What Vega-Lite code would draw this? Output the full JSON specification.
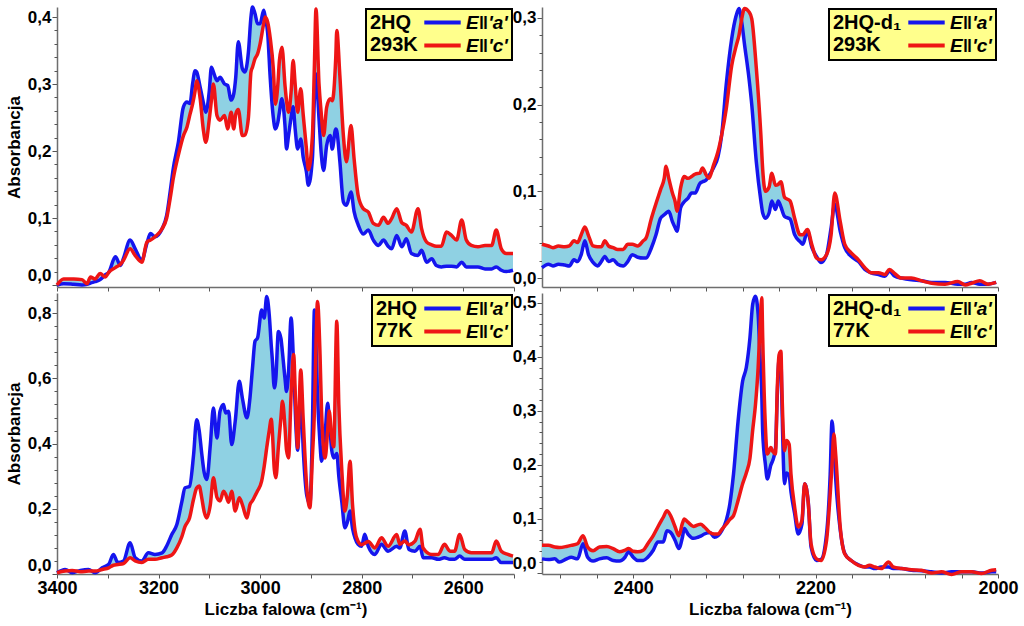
{
  "$schema": "https://vega.github.io/schema/vega-lite/v6.json",
  "background": "white",
  "padding": {"left": 5, "top": 0, "right": 5, "bottom": 2},
  "config": {
    "font": "Liberation Sans",
    "view": {"stroke": null},
    "locale": {"number": {"decimal": ",", "thousands": " ", "grouping": [3], "currency": ["", ""]}},
    "axis": {"grid": false, "labelFont": "Liberation Sans", "labelFontWeight": "bold", "labelFontSize": 17, "labelColor": "#000", "titleFont": "Liberation Sans", "titleFontWeight": "bold", "titleFontSize": 17, "titleColor": "#000", "domainColor": "#6e6e6e", "domainWidth": 1.5, "tickColor": "#555", "tickWidth": 1, "labelPadding": 1, "minExtent": 0},
    "axisX": {"labelFlush": false, "titlePadding": 4, "labelFontSize": 18},
    "axisY": {"titlePadding": 4},
    "legend": {"strokeWidth": 2, "fillColor": "#ffff8c", "strokeColor": "#000", "orient": "top-right", "offset": 2, "titleOrient": "left", "padding": 4, "symbolType": "M-2.6,0H2.6", "symbolSize": 196, "symbolStrokeWidth": 4, "labelOffset": 14, "labelFont": "Liberation Sans", "labelFontSize": 19, "labelFontStyle": "italic", "labelFontWeight": "bold", "labelColor": "#000", "titleFont": "Liberation Sans", "titleFontSize": 20, "titleFontWeight": "bold", "titleColor": "#000", "titleLineHeight": 22, "rowPadding": 3, "titlePadding": 15, "labelLimit": 300, "titleLimit": 300, "titleAnchor": "start", "titleBaseline": "top"}
  },
  "datasets": {
    "tl": [
      {"wn":3400,"a":0.000,"c":0.000},{"wn":3387,"a":0.002,"c":0.009},{"wn":3367,"a":0.001,"c":0.009},{"wn":3351,"a":0.000,"c":0.008},{"wn":3341,"a":0.001,"c":0.002},{"wn":3334,"a":0.003,"c":0.012},{"wn":3325,"a":0.005,"c":0.009},{"wn":3315,"a":0.008,"c":0.017},{"wn":3305,"a":0.015,"c":0.012},{"wn":3298,"a":0.019,"c":0.019},{"wn":3285,"a":0.042,"c":0.026},{"wn":3275,"a":0.029,"c":0.031},{"wn":3269,"a":0.040,"c":0.037},{"wn":3256,"a":0.067,"c":0.054},{"wn":3246,"a":0.054,"c":0.044},{"wn":3233,"a":0.037,"c":0.034},{"wn":3223,"a":0.062,"c":0.064},{"wn":3216,"a":0.077,"c":0.067},{"wn":3207,"a":0.072,"c":0.072},{"wn":3193,"a":0.084,"c":0.084},{"wn":3184,"a":0.104,"c":0.100},{"wn":3177,"a":0.140,"c":0.130},{"wn":3171,"a":0.174,"c":0.159},{"wn":3161,"a":0.213,"c":0.194},{"wn":3151,"a":0.266,"c":0.223},{"wn":3144,"a":0.273,"c":0.236},{"wn":3138,"a":0.271,"c":0.255},{"wn":3133,"a":0.300,"c":0.270},{"wn":3128,"a":0.320,"c":0.290},{"wn":3125,"a":0.318,"c":0.305},{"wn":3118,"a":0.295,"c":0.278},{"wn":3112,"a":0.273,"c":0.233},{"wn":3107,"a":0.258,"c":0.213},{"wn":3100,"a":0.290,"c":0.248},{"wn":3096,"a":0.325,"c":0.275},{"wn":3092,"a":0.318,"c":0.300},{"wn":3085,"a":0.305,"c":0.253},{"wn":3079,"a":0.310,"c":0.246},{"wn":3070,"a":0.300,"c":0.253},{"wn":3064,"a":0.298,"c":0.233},{"wn":3057,"a":0.276,"c":0.258},{"wn":3052,"a":0.285,"c":0.233},{"wn":3048,"a":0.310,"c":0.255},{"wn":3043,"a":0.363,"c":0.262},{"wn":3035,"a":0.323,"c":0.223},{"wn":3030,"a":0.318,"c":0.224},{"wn":3023,"a":0.348,"c":0.250},{"wn":3018,"a":0.400,"c":0.318},{"wn":3015,"a":0.415,"c":0.325},{"wn":3010,"a":0.405,"c":0.338},{"wn":3005,"a":0.390,"c":0.345},{"wn":3000,"a":0.390,"c":0.360},{"wn":2993,"a":0.410,"c":0.390},{"wn":2990,"a":0.400,"c":0.400},{"wn":2985,"a":0.375,"c":0.392},{"wn":2980,"a":0.308,"c":0.368},{"wn":2974,"a":0.250,"c":0.323},{"wn":2970,"a":0.233,"c":0.270},{"wn":2965,"a":0.243,"c":0.300},{"wn":2962,"a":0.258,"c":0.335},{"wn":2957,"a":0.278,"c":0.355},{"wn":2951,"a":0.238,"c":0.298},{"wn":2948,"a":0.203,"c":0.275},{"wn":2944,"a":0.223,"c":0.258},{"wn":2939,"a":0.250,"c":0.288},{"wn":2935,"a":0.266,"c":0.335},{"wn":2931,"a":0.233,"c":0.300},{"wn":2926,"a":0.203,"c":0.258},{"wn":2920,"a":0.218,"c":0.293},{"wn":2915,"a":0.190,"c":0.253},{"wn":2909,"a":0.170,"c":0.205},{"wn":2905,"a":0.149,"c":0.172},{"wn":2897,"a":0.189,"c":0.223},{"wn":2893,"a":0.280,"c":0.330},{"wn":2890,"a":0.315,"c":0.412},{"wn":2884,"a":0.248,"c":0.300},{"wn":2880,"a":0.200,"c":0.260},{"wn":2875,"a":0.171,"c":0.223},{"wn":2869,"a":0.208,"c":0.265},{"wn":2862,"a":0.223,"c":0.278},{"wn":2858,"a":0.203,"c":0.275},{"wn":2851,"a":0.233,"c":0.340},{"wn":2849,"a":0.230,"c":0.380},{"wn":2843,"a":0.185,"c":0.313},{"wn":2836,"a":0.124,"c":0.223},{"wn":2830,"a":0.119,"c":0.184},{"wn":2821,"a":0.139,"c":0.238},{"wn":2815,"a":0.110,"c":0.189},{"wn":2807,"a":0.090,"c":0.134},{"wn":2797,"a":0.076,"c":0.114},{"wn":2787,"a":0.082,"c":0.109},{"wn":2777,"a":0.067,"c":0.092},{"wn":2767,"a":0.059,"c":0.089},{"wn":2757,"a":0.067,"c":0.101},{"wn":2748,"a":0.058,"c":0.092},{"wn":2741,"a":0.054,"c":0.099},{"wn":2731,"a":0.074,"c":0.114},{"wn":2721,"a":0.057,"c":0.093},{"wn":2712,"a":0.069,"c":0.089},{"wn":2702,"a":0.047,"c":0.079},{"wn":2689,"a":0.044,"c":0.114},{"wn":2682,"a":0.052,"c":0.084},{"wn":2672,"a":0.034,"c":0.064},{"wn":2662,"a":0.039,"c":0.060},{"wn":2653,"a":0.029,"c":0.058},{"wn":2643,"a":0.027,"c":0.058},{"wn":2633,"a":0.028,"c":0.079},{"wn":2623,"a":0.028,"c":0.074},{"wn":2613,"a":0.027,"c":0.067},{"wn":2603,"a":0.034,"c":0.097},{"wn":2594,"a":0.027,"c":0.067},{"wn":2584,"a":0.027,"c":0.059},{"wn":2571,"a":0.027,"c":0.057},{"wn":2557,"a":0.024,"c":0.059},{"wn":2544,"a":0.024,"c":0.059},{"wn":2535,"a":0.027,"c":0.082},{"wn":2525,"a":0.022,"c":0.054},{"wn":2515,"a":0.020,"c":0.047},{"wn":2502,"a":0.022,"c":0.047}
    ],
    "tr": [
      {"wn":2500,"a":0.012,"c":0.039},{"wn":2493,"a":0.016,"c":0.037},{"wn":2488,"a":0.014,"c":0.035},{"wn":2482,"a":0.016,"c":0.037},{"wn":2475,"a":0.015,"c":0.036},{"wn":2470,"a":0.014,"c":0.037},{"wn":2465,"a":0.021,"c":0.043},{"wn":2461,"a":0.019,"c":0.041},{"wn":2457,"a":0.027,"c":0.050},{"wn":2453,"a":0.043,"c":0.059},{"wn":2449,"a":0.027,"c":0.049},{"wn":2444,"a":0.018,"c":0.037},{"wn":2439,"a":0.014,"c":0.036},{"wn":2435,"a":0.019,"c":0.036},{"wn":2431,"a":0.025,"c":0.043},{"wn":2427,"a":0.019,"c":0.037},{"wn":2422,"a":0.021,"c":0.035},{"wn":2417,"a":0.016,"c":0.033},{"wn":2411,"a":0.014,"c":0.033},{"wn":2406,"a":0.019,"c":0.039},{"wn":2401,"a":0.027,"c":0.039},{"wn":2395,"a":0.024,"c":0.037},{"wn":2389,"a":0.023,"c":0.043},{"wn":2386,"a":0.023,"c":0.046},{"wn":2380,"a":0.035,"c":0.069},{"wn":2375,"a":0.050,"c":0.086},{"wn":2370,"a":0.069,"c":0.102},{"wn":2366,"a":0.073,"c":0.115},{"wn":2364,"a":0.075,"c":0.129},{"wn":2361,"a":0.077,"c":0.115},{"wn":2357,"a":0.065,"c":0.098},{"wn":2354,"a":0.058,"c":0.088},{"wn":2352,"a":0.054,"c":0.077},{"wn":2348,"a":0.081,"c":0.104},{"wn":2344,"a":0.088,"c":0.117},{"wn":2340,"a":0.092,"c":0.115},{"wn":2336,"a":0.098,"c":0.117},{"wn":2332,"a":0.098,"c":0.120},{"wn":2327,"a":0.109,"c":0.121},{"wn":2324,"a":0.111,"c":0.127},{"wn":2320,"a":0.113,"c":0.119},{"wn":2317,"a":0.118,"c":0.115},{"wn":2312,"a":0.127,"c":0.130},{"wn":2307,"a":0.140,"c":0.146},{"wn":2303,"a":0.165,"c":0.165},{"wn":2298,"a":0.223,"c":0.195},{"wn":2292,"a":0.276,"c":0.245},{"wn":2287,"a":0.303,"c":0.268},{"wn":2284,"a":0.311,"c":0.280},{"wn":2281,"a":0.295,"c":0.299},{"wn":2278,"a":0.270,"c":0.311},{"wn":2273,"a":0.230,"c":0.307},{"wn":2270,"a":0.200,"c":0.299},{"wn":2265,"a":0.134,"c":0.242},{"wn":2260,"a":0.089,"c":0.165},{"wn":2258,"a":0.075,"c":0.125},{"wn":2255,"a":0.069,"c":0.100},{"wn":2251,"a":0.075,"c":0.105},{"wn":2248,"a":0.089,"c":0.121},{"wn":2244,"a":0.079,"c":0.107},{"wn":2241,"a":0.089,"c":0.108},{"wn":2238,"a":0.082,"c":0.111},{"wn":2234,"a":0.071,"c":0.093},{"wn":2228,"a":0.068,"c":0.089},{"wn":2223,"a":0.050,"c":0.069},{"wn":2217,"a":0.042,"c":0.050},{"wn":2214,"a":0.039,"c":0.050},{"wn":2209,"a":0.054,"c":0.056},{"wn":2204,"a":0.035,"c":0.038},{"wn":2199,"a":0.025,"c":0.023},{"wn":2194,"a":0.018,"c":0.021},{"wn":2188,"a":0.027,"c":0.027},{"wn":2183,"a":0.058,"c":0.050},{"wn":2179,"a":0.085,"c":0.098},{"wn":2173,"a":0.054,"c":0.065},{"wn":2168,"a":0.035,"c":0.039},{"wn":2161,"a":0.025,"c":0.029},{"wn":2153,"a":0.019,"c":0.021},{"wn":2146,"a":0.010,"c":0.012},{"wn":2139,"a":0.006,"c":0.006},{"wn":2131,"a":0.004,"c":0.006},{"wn":2124,"a":0.002,"c":0.004},{"wn":2119,"a":0.008,"c":0.010},{"wn":2113,"a":0.002,"c":0.005},{"wn":2106,"a":0.000,"c":0.000},{"wn":2095,"a":-0.002,"c":0.000},{"wn":2084,"a":-0.003,"c":-0.003},{"wn":2073,"a":-0.005,"c":-0.006},{"wn":2058,"a":-0.005,"c":-0.007},{"wn":2044,"a":-0.007,"c":-0.004},{"wn":2036,"a":-0.007,"c":-0.008},{"wn":2029,"a":-0.005,"c":-0.006},{"wn":2020,"a":-0.007,"c":-0.003},{"wn":2011,"a":-0.007,"c":-0.007},{"wn":2002,"a":-0.005,"c":-0.005}
    ],
    "bl": [
      {"wn":3400,"a":0.004,"c":0.004},{"wn":3384,"a":0.014,"c":0.009},{"wn":3370,"a":0.004,"c":0.011},{"wn":3354,"a":0.011,"c":0.007},{"wn":3338,"a":0.014,"c":0.009},{"wn":3325,"a":0.004,"c":0.009},{"wn":3311,"a":0.019,"c":0.014},{"wn":3298,"a":0.030,"c":0.019},{"wn":3289,"a":0.060,"c":0.027},{"wn":3280,"a":0.035,"c":0.029},{"wn":3269,"a":0.040,"c":0.032},{"wn":3256,"a":0.096,"c":0.050},{"wn":3246,"a":0.050,"c":0.040},{"wn":3233,"a":0.040,"c":0.035},{"wn":3220,"a":0.065,"c":0.045},{"wn":3207,"a":0.060,"c":0.045},{"wn":3193,"a":0.065,"c":0.050},{"wn":3184,"a":0.086,"c":0.053},{"wn":3174,"a":0.121,"c":0.058},{"wn":3164,"a":0.152,"c":0.080},{"wn":3154,"a":0.223,"c":0.115},{"wn":3148,"a":0.264,"c":0.145},{"wn":3139,"a":0.269,"c":0.172},{"wn":3131,"a":0.366,"c":0.230},{"wn":3125,"a":0.473,"c":0.264},{"wn":3120,"a":0.440,"c":0.270},{"wn":3115,"a":0.370,"c":0.234},{"wn":3110,"a":0.310,"c":0.190},{"wn":3105,"a":0.290,"c":0.172},{"wn":3098,"a":0.397,"c":0.213},{"wn":3092,"a":0.509,"c":0.295},{"wn":3085,"a":0.417,"c":0.235},{"wn":3079,"a":0.499,"c":0.224},{"wn":3072,"a":0.520,"c":0.254},{"wn":3068,"a":0.494,"c":0.245},{"wn":3062,"a":0.499,"c":0.220},{"wn":3056,"a":0.397,"c":0.254},{"wn":3049,"a":0.469,"c":0.193},{"wn":3041,"a":0.591,"c":0.234},{"wn":3035,"a":0.540,"c":0.213},{"wn":3026,"a":0.479,"c":0.172},{"wn":3020,"a":0.540,"c":0.213},{"wn":3015,"a":0.632,"c":0.225},{"wn":3010,"a":0.714,"c":0.240},{"wn":3005,"a":0.724,"c":0.255},{"wn":2997,"a":0.810,"c":0.285},{"wn":2992,"a":0.785,"c":0.330},{"wn":2987,"a":0.851,"c":0.387},{"wn":2982,"a":0.795,"c":0.440},{"wn":2978,"a":0.700,"c":0.475},{"wn":2976,"a":0.660,"c":0.440},{"wn":2972,"a":0.571,"c":0.320},{"wn":2969,"a":0.600,"c":0.295},{"wn":2964,"a":0.744,"c":0.390},{"wn":2959,"a":0.723,"c":0.480},{"wn":2956,"a":0.680,"c":0.530},{"wn":2951,"a":0.600,"c":0.450},{"wn":2948,"a":0.560,"c":0.380},{"wn":2944,"a":0.620,"c":0.356},{"wn":2939,"a":0.785,"c":0.550},{"wn":2934,"a":0.640,"c":0.673},{"wn":2930,"a":0.470,"c":0.520},{"wn":2926,"a":0.380,"c":0.387},{"wn":2920,"a":0.560,"c":0.626},{"wn":2915,"a":0.380,"c":0.470},{"wn":2908,"a":0.240,"c":0.264},{"wn":2902,"a":0.215,"c":0.203},{"wn":2897,"a":0.450,"c":0.360},{"wn":2893,"a":0.810,"c":0.500},{"wn":2890,"a":0.700,"c":0.700},{"wn":2887,"a":0.550,"c":0.836},{"wn":2882,"a":0.400,"c":0.673},{"wn":2879,"a":0.346,"c":0.500},{"wn":2872,"a":0.430,"c":0.356},{"wn":2867,"a":0.524,"c":0.440},{"wn":2864,"a":0.480,"c":0.500},{"wn":2859,"a":0.380,"c":0.420},{"wn":2855,"a":0.356,"c":0.390},{"wn":2849,"a":0.370,"c":0.775},{"wn":2845,"a":0.300,"c":0.520},{"wn":2839,"a":0.220,"c":0.315},{"wn":2833,"a":0.142,"c":0.193},{"wn":2828,"a":0.160,"c":0.244},{"wn":2823,"a":0.193,"c":0.346},{"wn":2818,"a":0.140,"c":0.213},{"wn":2813,"a":0.110,"c":0.132},{"wn":2807,"a":0.091,"c":0.100},{"wn":2800,"a":0.085,"c":0.090},{"wn":2794,"a":0.122,"c":0.094},{"wn":2787,"a":0.085,"c":0.100},{"wn":2774,"a":0.060,"c":0.080},{"wn":2761,"a":0.091,"c":0.111},{"wn":2748,"a":0.070,"c":0.085},{"wn":2731,"a":0.085,"c":0.121},{"wn":2725,"a":0.080,"c":0.091},{"wn":2715,"a":0.132,"c":0.101},{"wn":2707,"a":0.075,"c":0.090},{"wn":2695,"a":0.070,"c":0.101},{"wn":2685,"a":0.085,"c":0.137},{"wn":2679,"a":0.050,"c":0.080},{"wn":2662,"a":0.050,"c":0.060},{"wn":2649,"a":0.045,"c":0.060},{"wn":2637,"a":0.050,"c":0.091},{"wn":2626,"a":0.045,"c":0.070},{"wn":2617,"a":0.045,"c":0.070},{"wn":2607,"a":0.055,"c":0.121},{"wn":2597,"a":0.045,"c":0.075},{"wn":2584,"a":0.045,"c":0.065},{"wn":2564,"a":0.045,"c":0.065},{"wn":2544,"a":0.045,"c":0.065},{"wn":2535,"a":0.050,"c":0.101},{"wn":2525,"a":0.035,"c":0.070},{"wn":2512,"a":0.035,"c":0.060},{"wn":2502,"a":0.035,"c":0.055}
    ],
    "br": [
      {"wn":2500,"a":0.026,"c":0.051},{"wn":2493,"a":0.025,"c":0.051},{"wn":2486,"a":0.026,"c":0.048},{"wn":2481,"a":0.020,"c":0.047},{"wn":2473,"a":0.026,"c":0.049},{"wn":2468,"a":0.029,"c":0.051},{"wn":2461,"a":0.026,"c":0.054},{"wn":2455,"a":0.054,"c":0.069},{"wn":2450,"a":0.029,"c":0.048},{"wn":2444,"a":0.022,"c":0.041},{"wn":2437,"a":0.026,"c":0.048},{"wn":2429,"a":0.028,"c":0.049},{"wn":2422,"a":0.023,"c":0.045},{"wn":2415,"a":0.022,"c":0.039},{"wn":2409,"a":0.029,"c":0.042},{"wn":2405,"a":0.039,"c":0.045},{"wn":2400,"a":0.029,"c":0.040},{"wn":2395,"a":0.023,"c":0.039},{"wn":2389,"a":0.023,"c":0.042},{"wn":2384,"a":0.029,"c":0.054},{"wn":2378,"a":0.042,"c":0.069},{"wn":2373,"a":0.057,"c":0.085},{"wn":2367,"a":0.057,"c":0.103},{"wn":2363,"a":0.078,"c":0.115},{"wn":2359,"a":0.075,"c":0.106},{"wn":2354,"a":0.060,"c":0.085},{"wn":2350,"a":0.045,"c":0.069},{"wn":2346,"a":0.066,"c":0.092},{"wn":2344,"a":0.082,"c":0.100},{"wn":2340,"a":0.072,"c":0.094},{"wn":2334,"a":0.064,"c":0.086},{"wn":2329,"a":0.066,"c":0.089},{"wn":2326,"a":0.068,"c":0.090},{"wn":2322,"a":0.072,"c":0.085},{"wn":2316,"a":0.075,"c":0.075},{"wn":2311,"a":0.066,"c":0.072},{"wn":2307,"a":0.069,"c":0.072},{"wn":2303,"a":0.078,"c":0.080},{"wn":2298,"a":0.097,"c":0.090},{"wn":2294,"a":0.128,"c":0.099},{"wn":2290,"a":0.183,"c":0.106},{"wn":2285,"a":0.281,"c":0.134},{"wn":2280,"a":0.355,"c":0.165},{"wn":2276,"a":0.380,"c":0.185},{"wn":2272,"a":0.435,"c":0.212},{"wn":2269,"a":0.497,"c":0.264},{"wn":2266,"a":0.512,"c":0.310},{"wn":2263,"a":0.478,"c":0.380},{"wn":2261,"a":0.400,"c":0.454},{"wn":2259,"a":0.330,"c":0.509},{"wn":2258,"a":0.260,"c":0.435},{"wn":2255,"a":0.200,"c":0.269},{"wn":2253,"a":0.174,"c":0.220},{"wn":2249,"a":0.200,"c":0.232},{"wn":2247,"a":0.208,"c":0.225},{"wn":2244,"a":0.230,"c":0.220},{"wn":2242,"a":0.330,"c":0.343},{"wn":2240,"a":0.395,"c":0.404},{"wn":2238,"a":0.395,"c":0.410},{"wn":2237,"a":0.320,"c":0.343},{"wn":2234,"a":0.165,"c":0.226},{"wn":2232,"a":0.185,"c":0.245},{"wn":2229,"a":0.180,"c":0.238},{"wn":2227,"a":0.150,"c":0.183},{"wn":2223,"a":0.110,"c":0.122},{"wn":2219,"a":0.072,"c":0.085},{"wn":2215,"a":0.090,"c":0.097},{"wn":2212,"a":0.165,"c":0.165},{"wn":2208,"a":0.130,"c":0.128},{"wn":2205,"a":0.048,"c":0.054},{"wn":2199,"a":0.023,"c":0.026},{"wn":2194,"a":0.025,"c":0.023},{"wn":2188,"a":0.072,"c":0.060},{"wn":2184,"a":0.183,"c":0.146},{"wn":2182,"a":0.281,"c":0.200},{"wn":2180,"a":0.240,"c":0.257},{"wn":2178,"a":0.175,"c":0.220},{"wn":2173,"a":0.080,"c":0.085},{"wn":2168,"a":0.036,"c":0.035},{"wn":2161,"a":0.023,"c":0.023},{"wn":2153,"a":0.015,"c":0.014},{"wn":2146,"a":0.011,"c":0.011},{"wn":2141,"a":0.011,"c":0.014},{"wn":2135,"a":0.008,"c":0.011},{"wn":2128,"a":0.011,"c":0.008},{"wn":2120,"a":0.011,"c":0.020},{"wn":2115,"a":0.008,"c":0.011},{"wn":2106,"a":0.008,"c":0.008},{"wn":2095,"a":0.005,"c":0.006},{"wn":2084,"a":0.004,"c":0.005},{"wn":2073,"a":0.002,"c":0.000},{"wn":2062,"a":0.000,"c":0.002},{"wn":2051,"a":0.002,"c":-0.003},{"wn":2040,"a":0.002,"c":0.002},{"wn":2029,"a":0.002,"c":0.002},{"wn":2018,"a":0.000,"c":-0.001},{"wn":2007,"a":0.002,"c":0.005},{"wn":2002,"a":0.002,"c":0.006}
    ]
  },
  "columns": 2,
  "spacing": {"row": -8, "column": -8},
  "resolve": {"scale": {"color": "independent"}, "legend": {"color": "independent"}},
  "concat": [
    {
      "width": 457, "height": 280,
      "data": {"name": "tl"},
      "resolve": {"axis": {"y": "independent"}},
      "encoding": {"x": {"field": "wn", "type": "quantitative", "scale": {"domain": [2500, 3400], "reverse": true, "nice": false, "zero": false}, "axis": {"labels": false, "title": null, "values": [3400,3300,3200,3100,3000,2900,2800,2700,2600,2500], "tickSize": 4}}},
      "layer": [
        {"mark": {"type": "area", "color": "#8fd1e3", "interpolate": "monotone"},
         "encoding": {"y": {"field": "a", "type": "quantitative", "scale": {"domain": [-0.003, 0.415], "nice": false, "zero": false},
           "axis": {"title": "Absorbancja", "orient": "left", "labelOverlap": false, "values": [0,0.1,0.2,0.3,0.4], "format": ".1f", "tickSize": 5, "labelFlush": 3}},
           "y2": {"field": "c"}}},
        {"transform": [{"fold": ["a", "c"], "as": ["pol", "val"]}],
         "mark": {"type": "line", "strokeWidth": 3.5, "interpolate": "monotone"},
         "encoding": {"y": {"field": "val", "type": "quantitative", "axis": {"orient": "left", "title": null, "labels": false, "domain": false, "tickSize": 3, "values": [0.02,0.04,0.06,0.08,0.12,0.14,0.16,0.18,0.22,0.24,0.26,0.28,0.32,0.34,0.36,0.38]}},
           "color": {"field": "pol", "type": "nominal", "scale": {"domain": ["a", "c"], "range": ["#1515ee", "#ee1515"]},
             "legend": {"title": ["2HQ", "293K"], "labelExpr": "datum.label == 'a' ? \"E‖'a'\" : \"E‖'c'\""}}}}
      ]
    },
    {
      "width": 456, "height": 280,
      "data": {"name": "tr"},
      "resolve": {"axis": {"y": "independent"}},
      "encoding": {"x": {"field": "wn", "type": "quantitative", "scale": {"domain": [2000, 2500], "reverse": true, "nice": false, "zero": false}, "axis": {"labels": false, "title": null, "values": [2480,2440,2400,2360,2320,2280,2240,2200,2160,2120,2080,2040,2000], "tickSize": 4}}},
      "layer": [
        {"mark": {"type": "area", "color": "#8fd1e3", "interpolate": "monotone"},
         "encoding": {"y": {"field": "a", "type": "quantitative", "scale": {"domain": [-0.0103, 0.3126], "nice": false, "zero": false},
           "axis": {"title": null, "orient": "left", "labelOverlap": false, "values": [0,0.1,0.2,0.3], "format": ".1f", "tickSize": 5, "labelFlush": 3}},
           "y2": {"field": "c"}}},
        {"transform": [{"fold": ["a", "c"], "as": ["pol", "val"]}],
         "mark": {"type": "line", "strokeWidth": 3.5, "interpolate": "monotone"},
         "encoding": {"y": {"field": "val", "type": "quantitative", "axis": {"orient": "left", "title": null, "labels": false, "domain": false, "tickSize": 3, "values": [0.02,0.04,0.06,0.08,0.12,0.14,0.16,0.18,0.22,0.24,0.26,0.28]}},
           "color": {"field": "pol", "type": "nominal", "scale": {"domain": ["a", "c"], "range": ["#1515ee", "#ee1515"]},
             "legend": {"title": ["2HQ-d₁", "293K"], "labelExpr": "datum.label == 'a' ? \"E‖'a'\" : \"E‖'c'\""}}}}
      ]
    },
    {
      "width": 457, "height": 281,
      "data": {"name": "bl"},
      "resolve": {"axis": {"y": "independent"}},
      "encoding": {"x": {"field": "wn", "type": "quantitative", "scale": {"domain": [2500, 3400], "reverse": true, "nice": false, "zero": false}, "axis": {"title": "Liczba falowa (cm⁻¹)", "format": "d", "values": [3400,3300,3200,3100,3000,2900,2800,2700,2600,2500], "labelExpr": "datum.value % 200 == 0 ? datum.label : ''", "tickSize": 4}}},
      "layer": [
        {"mark": {"type": "area", "color": "#8fd1e3", "interpolate": "monotone"},
         "encoding": {"y": {"field": "a", "type": "quantitative", "scale": {"domain": [0, 0.862], "nice": false, "zero": false},
           "axis": {"title": "Absorbancja", "orient": "left", "labelOverlap": false, "values": [0,0.2,0.4,0.6,0.8], "format": ".1f", "tickSize": 5, "labelFlush": 3}},
           "y2": {"field": "c"}}},
        {"transform": [{"fold": ["a", "c"], "as": ["pol", "val"]}],
         "mark": {"type": "line", "strokeWidth": 3.5, "interpolate": "monotone"},
         "encoding": {"y": {"field": "val", "type": "quantitative", "axis": {"orient": "left", "title": null, "labels": false, "domain": false, "tickSize": 3, "values": [0.04,0.08,0.12,0.16,0.24,0.28,0.32,0.36,0.44,0.48,0.52,0.56,0.64,0.68,0.72,0.76,0.84]}},
           "color": {"field": "pol", "type": "nominal", "scale": {"domain": ["a", "c"], "range": ["#1515ee", "#ee1515"]},
             "legend": {"title": ["2HQ", "77K"], "labelExpr": "datum.label == 'a' ? \"E‖'a'\" : \"E‖'c'\""}}}}
      ]
    },
    {
      "width": 456, "height": 281,
      "data": {"name": "br"},
      "resolve": {"axis": {"y": "independent"}},
      "encoding": {"x": {"field": "wn", "type": "quantitative", "scale": {"domain": [2000, 2500], "reverse": true, "nice": false, "zero": false}, "axis": {"title": "Liczba falowa (cm⁻¹)", "format": "d", "values": [2480,2440,2400,2360,2320,2280,2240,2200,2160,2120,2080,2040,2000], "labelExpr": "datum.value % 200 == 0 ? datum.label : ''", "tickSize": 4}}},
      "layer": [
        {"mark": {"type": "area", "color": "#8fd1e3", "interpolate": "monotone"},
         "encoding": {"y": {"field": "a", "type": "quantitative", "scale": {"domain": [-0.002, 0.518], "nice": false, "zero": false},
           "axis": {"title": null, "orient": "left", "labelOverlap": false, "values": [0,0.1,0.2,0.3,0.4,0.5], "format": ".1f", "tickSize": 5, "labelFlush": 3}},
           "y2": {"field": "c"}}},
        {"transform": [{"fold": ["a", "c"], "as": ["pol", "val"]}],
         "mark": {"type": "line", "strokeWidth": 3.5, "interpolate": "monotone"},
         "encoding": {"y": {"field": "val", "type": "quantitative", "axis": {"orient": "left", "title": null, "labels": false, "domain": false, "tickSize": 3, "values": [0.02,0.04,0.06,0.08,0.12,0.14,0.16,0.18,0.22,0.24,0.26,0.28,0.32,0.34,0.36,0.38,0.42,0.44,0.46,0.48]}},
           "color": {"field": "pol", "type": "nominal", "scale": {"domain": ["a", "c"], "range": ["#1515ee", "#ee1515"]},
             "legend": {"title": ["2HQ-d₁", "77K"], "labelExpr": "datum.label == 'a' ? \"E‖'a'\" : \"E‖'c'\""}}}}
      ]
    }
  ]
}
